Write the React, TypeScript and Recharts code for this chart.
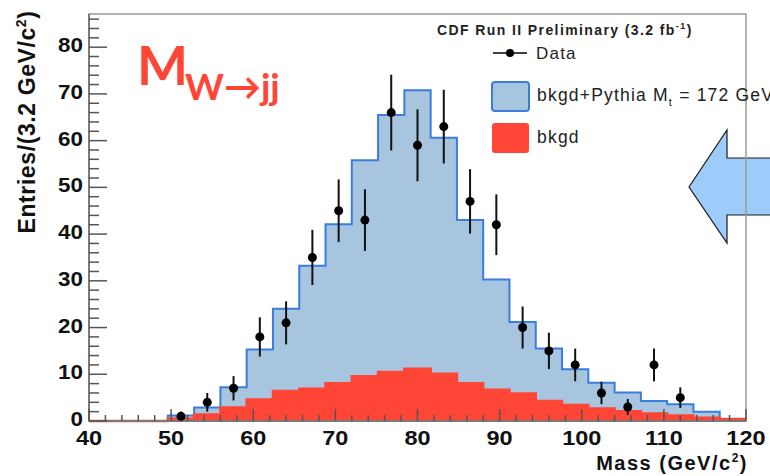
import React from 'react';
import { ComposedChart, Area, Scatter, ErrorBar, XAxis, YAxis, ReferenceArea } from 'recharts';

// Histogram bins (lower edges, GeV/c^2), bin width 3.2
const binStarts = [40, 43.2, 46.4, 49.6, 52.8, 56, 59.2, 62.4, 65.6, 68.8, 72, 75.2, 78.4, 81.6, 84.8, 88, 91.2, 94.4, 97.6, 100.8, 104, 107.2, 110.4, 113.6, 116.8];
const histEnd = 120;
// bkgd + Pythia Mt = 172 GeV
const signalPlusBkgd = [0, 0, 0, 1.2, 2.9, 7.2, 15.3, 24.0, 33.2, 42.1, 55.8, 65.5, 70.8, 60.6, 43.0, 30.3, 21.2, 15.5, 11.1, 8.2, 6.1, 4.3, 3.6, 2.0, 0.5];
// bkgd only
const bkgdOnly = [0, 0, 0, 0.5, 1.4, 2.9, 4.6, 6.4, 6.9, 8.1, 9.6, 10.5, 11.2, 10.1, 8.1, 6.7, 5.9, 4.3, 3.4, 2.7, 2.1, 1.6, 1.2, 0.7, 0.4];

// Data points (bin centres)
const dataMass = [51.2, 54.4, 57.6, 60.8, 64, 67.2, 70.4, 73.6, 76.8, 80, 83.2, 86.4, 89.6, 92.8, 96, 99.2, 102.4, 105.6, 108.8, 112];
const dataCounts = [1, 4, 7, 18, 21, 35, 45, 43, 66, 59, 63, 47, 42, 20, 15, 12, 6, 3, 12, 5];
const dataErrors = [1, 2, 2.6, 4.2, 4.6, 5.9, 6.7, 6.6, 8.1, 7.7, 7.9, 6.9, 6.5, 4.5, 3.9, 3.5, 2.4, 1.7, 3.5, 2.2];

const xTicks = [40, 42, 44, 46, 48, 50, 52, 54, 56, 58, 60, 62, 64, 66, 68, 70, 72, 74, 76, 78, 80, 82, 84, 86, 88, 90, 92, 94, 96, 98, 100, 102, 104, 106, 108, 110, 112, 114, 116, 118, 120];
const yTicks = [0, 2, 4, 6, 8, 10, 12, 14, 16, 18, 20, 22, 24, 26, 28, 30, 32, 34, 36, 38, 40, 42, 44, 46, 48, 50, 52, 54, 56, 58, 60, 62, 64, 66, 68, 70, 72, 74, 76, 78, 80, 82, 84, 86];
const yMax = 87.1;

const histTable = binStarts
  .map((x, i) => ({ x, sig: signalPlusBkgd[i], bkg: bkgdOnly[i] }))
  .concat([{ x: histEnd, sig: signalPlusBkgd[signalPlusBkgd.length - 1], bkg: bkgdOnly[bkgdOnly.length - 1] }]);

const points = dataMass.map((x, i) => ({ x, y: dataCounts[i], err: dataErrors[i] }));

const BLUE_FILL = '#a8c5e0';
const BLUE_LINE = '#3a7ddb';
const RED = '#fe4536';
const FONT = '"Liberation Sans", Arial, sans-serif';

const XTick = (props: any) => {
  const { x, y, payload } = props;
  const v = payload.value;
  const major = v % 10 === 0;
  return (
    <g>
      <line x1={x} x2={x} y1={y} y2={y - (major ? 12 : 6)} stroke="#555" strokeWidth={1.5} />
      {major && (
        <text x={x} y={y + 24} textAnchor="middle" fontFamily={FONT} fontWeight="bold" fontSize={21} fill="#111"
          transform={`translate(${x},0) scale(1.12,1) translate(${-x},0)`}>
          {v}
        </text>
      )}
    </g>
  );
};

const YTick = (props: any) => {
  const { x, y, payload } = props;
  const v = payload.value;
  const major = v % 10 === 0;
  return (
    <g>
      <line x1={x} x2={x + (major ? 18 : 10)} y1={y} y2={y} stroke="#555" strokeWidth={1.5} />
      {major && v <= 80 && (
        <text x={x - 6} y={y + 5} textAnchor="end" fontFamily={FONT} fontWeight="bold" fontSize={20} fill="#111"
          transform={`translate(${x - 6},0) scale(1.12,1) translate(${-(x - 6)},0)`}>
          {v}
        </text>
      )}
    </g>
  );
};

const Dot = (props: any) => <circle cx={props.cx} cy={props.cy} r={4.5} fill="#000" />;

export default function App() {
  return (
    <div style={{ position: 'absolute', left: 0, top: 0, width: 770, height: 476, background: '#fff', overflow: 'hidden' }}>
      {/* arrow annotation (below the chart frame) */}
      <svg width={770} height={476} style={{ position: 'absolute', left: 0, top: 0 }}>
        <polygon points="689,187 727,130 727,158 780,158 780,215 727,215 727,243" fill="#9dcbfa" stroke="#1a1a1a" strokeWidth={1.2} />
      </svg>
      <div style={{ position: 'absolute', left: 0, top: 0 }}>
        <ComposedChart width={770} height={476} data={histTable} margin={{ top: 14, right: 24, bottom: 0, left: 0 }}>
          <ReferenceArea x1={40} x2={120} y1={0} y2={yMax} fill="none" stroke="#9a9a9a" strokeWidth={1.5} ifOverflow="visible" />
          <XAxis dataKey="x" type="number" domain={[40, 120]} ticks={xTicks} interval={0}
            tickSize={0} tickMargin={0} tickLine={false} tick={<XTick />} height={55}
            axisLine={{ stroke: '#7a7a7a', strokeWidth: 2 }} />
          <YAxis dataKey="y" type="number" domain={[0, yMax]} ticks={yTicks} interval={0}
            tickSize={0} tickMargin={0} tickLine={false} tick={<YTick />} width={89}
            axisLine={{ stroke: '#7a7a7a', strokeWidth: 2 }} />
          <Area data={histTable} dataKey="sig" type="stepAfter" fill={BLUE_FILL} fillOpacity={1} stroke={BLUE_LINE} strokeWidth={2} isAnimationActive={false} baseValue={0} />
          <Area data={histTable} dataKey="bkg" type="stepAfter" fill={RED} fillOpacity={1} stroke={RED} strokeWidth={2.5} isAnimationActive={false} baseValue={0} />
          <Scatter data={points} dataKey="y" shape={<Dot />} isAnimationActive={false}>
            <ErrorBar dataKey="err" direction="y" width={0} stroke="#111" strokeWidth={2} />
          </Scatter>
        </ComposedChart>
      </div>
      {/* text annotations */}
      <svg width={770} height={476} style={{ position: 'absolute', left: 0, top: 0, pointerEvents: 'none' }}>
        <text transform="translate(35,122) rotate(-90)" textAnchor="middle" fontFamily={FONT} fontWeight="bold" fontSize={23} letterSpacing={0.6} fill="#111">
          Entries/(3.2 GeV/c<tspan dy={-9} fontSize={14}>2</tspan><tspan dy={9}>)</tspan>
        </text>
        <text x={748} y={470} textAnchor="end" fontFamily={FONT} fontWeight="bold" fontSize={20} letterSpacing={1.5} fill="#111">
          Mass (GeV/c<tspan dy={-8} fontSize={12}>2</tspan><tspan dy={8}>)</tspan>
        </text>
        <text x={137} y={85} fontFamily="Lato, sans-serif" fontWeight="bold" fontSize={54} fill={RED}>M</text>
        <text x={185} y={100} fontFamily="Lato, sans-serif" fontWeight="bold" fontSize={37} fill={RED}>W→jj</text>
        <text x={437} y={35} fontFamily={FONT} fontWeight="bold" fontSize={14} letterSpacing={1.4} fill="#222">
          CDF Run II Preliminary (3.2 fb<tspan dy={-6} fontSize={9}>-1</tspan><tspan dy={6}>)</tspan>
        </text>
        <line x1={493} x2={527} y1={53} y2={53} stroke="#000" strokeWidth={1.5} />
        <circle cx={510} cy={53} r={4} fill="#000" />
        <text x={536} y={59} fontFamily={FONT} fontSize={17} letterSpacing={1.2} fill="#222">Data</text>
        <rect x={492} y={82} width={37} height={29} rx={3} fill={BLUE_FILL} stroke={BLUE_LINE} strokeWidth={2} />
        <text x={537} y={101} fontFamily={FONT} fontSize={17.5} letterSpacing={1.2} fill="#222">
          bkgd+Pythia M<tspan dy={5} fontSize={11}>t</tspan><tspan dy={-5}> = 172 GeV</tspan>
        </text>
        <rect x={492} y={123} width={37} height={30} rx={3} fill={RED} />
        <text x={537} y={143} fontFamily={FONT} fontSize={17.5} letterSpacing={1.2} fill="#222">bkgd</text>
      </svg>
    </div>
  );
}
